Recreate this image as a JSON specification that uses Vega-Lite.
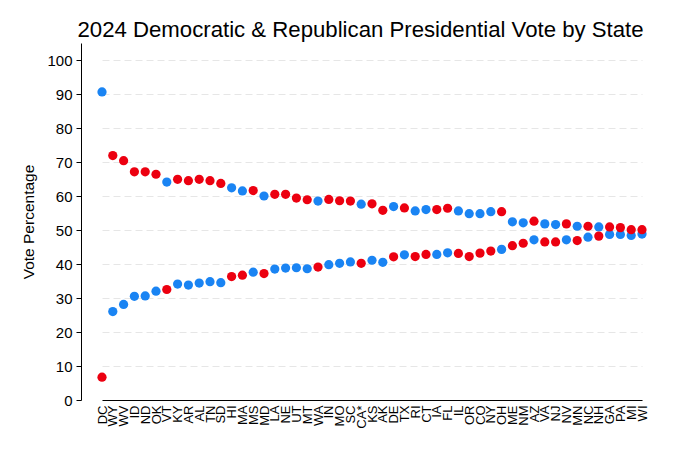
{
  "$schema": "https://vega.github.io/schema/vega-lite/v6.json",
  "autosize": {"type": "none"},
  "padding": {"left": 81, "top": 43, "right": 20, "bottom": 53},
  "width": 579,
  "height": 357,
  "background": "white",
  "title": {
    "text": "2024 Democratic & Republican Presidential Vote by State",
    "font": "Liberation Sans",
    "fontSize": 22.2,
    "fontWeight": "normal",
    "color": "#000",
    "anchor": "middle",
    "dx": -10,
    "offset": 2
  },
  "data": {
    "values": [
      {"state": "DC", "party": "D", "pct": 90.6},
      {"state": "WY", "party": "D", "pct": 26.0},
      {"state": "WV", "party": "D", "pct": 28.1},
      {"state": "ID", "party": "D", "pct": 30.5},
      {"state": "ND", "party": "D", "pct": 30.6},
      {"state": "OK", "party": "D", "pct": 32.0},
      {"state": "VT", "party": "D", "pct": 64.1},
      {"state": "KY", "party": "D", "pct": 34.1},
      {"state": "AR", "party": "D", "pct": 33.8},
      {"state": "AL", "party": "D", "pct": 34.4},
      {"state": "TN", "party": "D", "pct": 34.8},
      {"state": "SD", "party": "D", "pct": 34.5},
      {"state": "HI", "party": "D", "pct": 62.4},
      {"state": "MA", "party": "D", "pct": 61.5},
      {"state": "MS", "party": "D", "pct": 37.6},
      {"state": "MD", "party": "D", "pct": 60.0},
      {"state": "LA", "party": "D", "pct": 38.5},
      {"state": "NE", "party": "D", "pct": 38.8},
      {"state": "UT", "party": "D", "pct": 38.9},
      {"state": "MT", "party": "D", "pct": 38.6},
      {"state": "WA", "party": "D", "pct": 58.5},
      {"state": "IN", "party": "D", "pct": 39.8},
      {"state": "MO", "party": "D", "pct": 40.2},
      {"state": "SC", "party": "D", "pct": 40.6},
      {"state": "CA*", "party": "D", "pct": 57.6},
      {"state": "KS", "party": "D", "pct": 41.1},
      {"state": "AK", "party": "D", "pct": 40.5},
      {"state": "DE", "party": "D", "pct": 56.9},
      {"state": "TX", "party": "D", "pct": 42.7},
      {"state": "RI", "party": "D", "pct": 55.6},
      {"state": "CT", "party": "D", "pct": 56.0},
      {"state": "IA", "party": "D", "pct": 42.8},
      {"state": "FL", "party": "D", "pct": 43.3},
      {"state": "IL", "party": "D", "pct": 55.6},
      {"state": "OR", "party": "D", "pct": 54.8},
      {"state": "CO", "party": "D", "pct": 54.8},
      {"state": "NY", "party": "D", "pct": 55.4},
      {"state": "OH", "party": "D", "pct": 44.3},
      {"state": "ME", "party": "D", "pct": 52.4},
      {"state": "NM", "party": "D", "pct": 52.1},
      {"state": "AZ", "party": "D", "pct": 47.1},
      {"state": "VA", "party": "D", "pct": 51.8},
      {"state": "NJ", "party": "D", "pct": 51.6},
      {"state": "NV", "party": "D", "pct": 47.1},
      {"state": "MN", "party": "D", "pct": 51.1},
      {"state": "NC", "party": "D", "pct": 47.9},
      {"state": "NH", "party": "D", "pct": 50.9},
      {"state": "GA", "party": "D", "pct": 48.7},
      {"state": "PA", "party": "D", "pct": 48.7},
      {"state": "MI", "party": "D", "pct": 48.4},
      {"state": "WI", "party": "D", "pct": 48.8},
      {"state": "DC", "party": "R", "pct": 6.7},
      {"state": "WY", "party": "R", "pct": 71.9},
      {"state": "WV", "party": "R", "pct": 70.4},
      {"state": "ID", "party": "R", "pct": 67.1},
      {"state": "ND", "party": "R", "pct": 67.1},
      {"state": "OK", "party": "R", "pct": 66.4},
      {"state": "VT", "party": "R", "pct": 32.5},
      {"state": "KY", "party": "R", "pct": 64.9},
      {"state": "AR", "party": "R", "pct": 64.5},
      {"state": "AL", "party": "R", "pct": 64.9},
      {"state": "TN", "party": "R", "pct": 64.5},
      {"state": "SD", "party": "R", "pct": 63.7},
      {"state": "HI", "party": "R", "pct": 36.3},
      {"state": "MA", "party": "R", "pct": 36.7},
      {"state": "MS", "party": "R", "pct": 61.6},
      {"state": "MD", "party": "R", "pct": 37.2},
      {"state": "LA", "party": "R", "pct": 60.5},
      {"state": "NE", "party": "R", "pct": 60.5},
      {"state": "UT", "party": "R", "pct": 59.4},
      {"state": "MT", "party": "R", "pct": 58.9},
      {"state": "WA", "party": "R", "pct": 39.1},
      {"state": "IN", "party": "R", "pct": 59.0},
      {"state": "MO", "party": "R", "pct": 58.6},
      {"state": "SC", "party": "R", "pct": 58.5},
      {"state": "CA*", "party": "R", "pct": 40.2},
      {"state": "KS", "party": "R", "pct": 57.7},
      {"state": "AK", "party": "R", "pct": 55.8},
      {"state": "DE", "party": "R", "pct": 42.1},
      {"state": "TX", "party": "R", "pct": 56.5},
      {"state": "RI", "party": "R", "pct": 42.2},
      {"state": "CT", "party": "R", "pct": 42.8},
      {"state": "IA", "party": "R", "pct": 56.0},
      {"state": "FL", "party": "R", "pct": 56.4},
      {"state": "IL", "party": "R", "pct": 43.1},
      {"state": "OR", "party": "R", "pct": 42.2},
      {"state": "CO", "party": "R", "pct": 43.2},
      {"state": "NY", "party": "R", "pct": 43.8},
      {"state": "OH", "party": "R", "pct": 55.4},
      {"state": "ME", "party": "R", "pct": 45.4},
      {"state": "NM", "party": "R", "pct": 46.1},
      {"state": "AZ", "party": "R", "pct": 52.6},
      {"state": "VA", "party": "R", "pct": 46.5},
      {"state": "NJ", "party": "R", "pct": 46.5},
      {"state": "NV", "party": "R", "pct": 51.8},
      {"state": "MN", "party": "R", "pct": 46.9},
      {"state": "NC", "party": "R", "pct": 51.1},
      {"state": "NH", "party": "R", "pct": 48.2},
      {"state": "GA", "party": "R", "pct": 50.9},
      {"state": "PA", "party": "R", "pct": 50.7},
      {"state": "MI", "party": "R", "pct": 50.1},
      {"state": "WI", "party": "R", "pct": 50.1}
    ]
  },
  "mark": {"type": "point", "filled": true, "shape": "circle", "size": 85, "opacity": 1},
  "encoding": {
    "x": {
      "field": "state",
      "type": "nominal",
      "sort": null,
      "title": null,
      "scale": {"type": "point", "padding": 0, "range": [21, 561]},
      "axis": {
        "labelAngle": -90,
        "labelAlign": "right",
        "labelBaseline": "middle",
        "labelFont": "Liberation Sans",
        "labelFontSize": 13,
        "labelColor": "#000",
        "labelPadding": 5,
        "ticks": false,
        "grid": false,
        "domainColor": "#000",
        "domainWidth": 1,
        "labelOverlap": false
      }
    },
    "y": {
      "field": "pct",
      "type": "quantitative",
      "title": "Vote Percentage",
      "scale": {"domain": [0, 105], "nice": false, "zero": true},
      "axis": {
        "values": [0, 10, 20, 30, 40, 50, 60, 70, 80, 90, 100],
        "labelFont": "Liberation Sans",
        "labelFontSize": 15,
        "labelColor": "#000",
        "labelPadding": 4,
        "tickSize": 5,
        "tickColor": "#000",
        "domainColor": "#000",
        "domainWidth": 1,
        "titleFont": "Liberation Sans",
        "titleFontSize": 15.5,
        "titleFontWeight": "normal",
        "titleColor": "#000",
        "titlePadding": 10,
        "grid": true,
        "gridColor": "#e6e6e6",
        "gridDash": [7, 4],
        "gridWidth": 1
      }
    },
    "color": {
      "field": "party",
      "type": "nominal",
      "scale": {"domain": ["D", "R"], "range": ["#1a84f3", "#ec0010"]},
      "legend": null
    }
  },
  "config": {
    "view": {"stroke": null}
  }
}
